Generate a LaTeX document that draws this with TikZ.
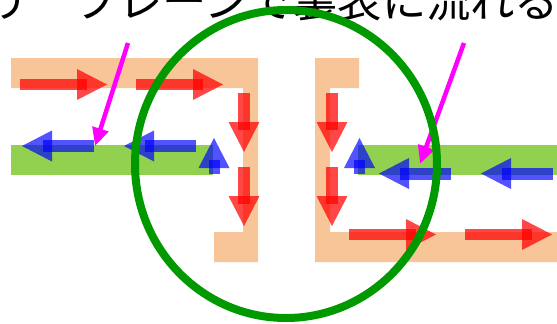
\documentclass[tikz,border=0pt]{standalone}
\usepackage{fontspec}
\newfontfamily\jpfont{Noto Sans CJK JP}
\usetikzlibrary{arrows.meta}
\definecolor{naranja}{HTML}{F8C598}
\definecolor{verdeclaro}{HTML}{92D050}
\definecolor{verdeoscuro}{HTML}{009900}
\definecolor{rosa}{RGB}{255,0,255}
\definecolor{rojoflecha}{RGB}{255,0,0}
\definecolor{azulflecha}{RGB}{0,0,255}

\begin{document}
\begin{tikzpicture}[x=1pt,y=-1pt,
    banda/.style={fill=naranja},
    cinta/.style={fill=verdeclaro},
    rojo/.style={fill=rojoflecha, fill opacity=0.72},
    azul/.style={fill=azulflecha, fill opacity=0.68},
    puntero/.style={rosa, line width=4.5pt, -{Triangle[length=18pt,width=16pt]}},
    circulo/.style={verdeoscuro, line width=8pt}]
        \clip (0,0) rectangle (557,324);
        % Texto superior
        \node[anchor=base west, inner sep=0pt, font=\jpfont\fontsize{44.3}{48}\selectfont] (titulo) at (-14.6,17.5) {リ　ブレーンで裏表に流れる};
        % Bandas naranjas
        \fill[banda] (11,58) -- (258,58) -- (258,262) -- (214,262) -- (214,232) -- (243,232) -- (243,88) -- (11,88) -- cycle;
        \fill[banda] (315,58) -- (359,58) -- (359,88) -- (330,88) -- (330,232) -- (557,232) -- (557,262) -- (315,262) -- cycle;
        % Bandas verdes
        \fill[cinta] (11,145) rectangle (213,175);
        \fill[cinta] (358,145) rectangle (557,175);
        % Flechas rojas hacia la derecha
        \foreach \x/\y in {20/84.5, 136/84.5, 349/234.5, 465/234.5} {
            \fill[rojo] (\x,\y-5.5) rectangle (\x+67,\y+5.5);
            \fill[rojo] (\x+57,\y-15.5) -- (\x+87,\y) -- (\x+57,\y+15.5) -- cycle;
        }
        % Flechas rojas hacia abajo
        \foreach \x/\y in {244/93, 244/167, 332/93, 332/167} {
            \fill[rojo] (\x-6,\y) rectangle (\x+6,\y+37);
            \fill[rojo] (\x-15.5,\y+29) -- (\x,\y+59) -- (\x+15.5,\y+29) -- cycle;
        }
        % Flechas azules hacia la izquierda
        \foreach \x/\y in {94/146, 196/146, 451/173.5, 553/173.5} {
            \fill[azul] (\x,\y-6) rectangle (\x-51,\y+6);
            \fill[azul] (\x-42,\y-15.5) -- (\x-72,\y) -- (\x-42,\y+15.5) -- cycle;
        }
        % Flechas azules hacia arriba
        \foreach \x in {214, 359.5} {
            \fill[azul] (\x-5.5,174) rectangle (\x+5.5,160);
            \fill[azul] (\x-15.5,168) -- (\x,138) -- (\x+15.5,168) -- cycle;
        }
        % Indicadores rosas
        \coordinate (inicioizq) at (128,43);
        \coordinate (puntaizq) at (95,146);
        \coordinate (inicioder) at (464,43);
        \coordinate (puntader) at (420,164);
        \draw[puntero] (inicioizq) -- (puntaizq);
        \draw[puntero] (inicioder) -- (puntader);
        % Circulo verde
        \draw[circulo] (286,164) ellipse [x radius=151, y radius=154];
    \end{tikzpicture}
\end{document}
